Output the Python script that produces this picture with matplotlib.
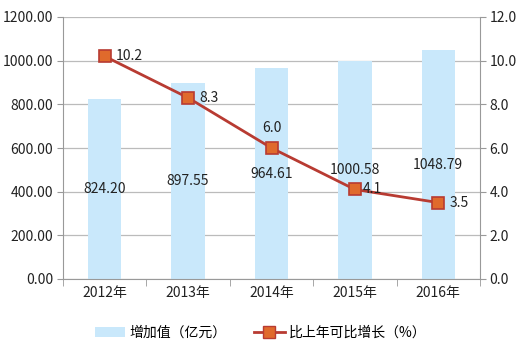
import matplotlib
matplotlib.use("Agg")
import matplotlib.pyplot as plt
import numpy as np
from matplotlib.lines import Line2D
from matplotlib.patches import Patch

plt.rcParams['font.family'] = ['Noto Sans CJK SC', 'DejaVu Sans']

years = ['2012年', '2013年', '2014年', '2015年', '2016年']
values = [824.20, 897.55, 964.61, 1000.58, 1048.79]
growth = [10.2, 8.3, 6.0, 4.1, 3.5]
left_ticks = [0, 200, 400, 600, 800, 1000, 1200]
right_ticks = [0, 2, 4, 6, 8, 10, 12]

FS = 10
fig = plt.figure(figsize=(5.21, 3.5), dpi=100)
ax = fig.add_axes([63/521, 1-279/350, (480-63)/521, (279-17)/350])
ax2 = ax.twinx()

x = np.arange(len(years))
bar_color = '#C9E8FB'
ax.bar(x, values, width=0.4, color=bar_color, zorder=2)
for xi, v in zip(x, values):
    ax.text(xi, v/2, f'{v:.2f}', ha='center', va='center', fontsize=FS, color='#222222', zorder=5)

ax.set_xlim(-0.5, len(years)-0.5)
ax.set_ylim(0, 1200)
ax.set_yticks(left_ticks)
ax.set_yticklabels([f'{t:.2f}' for t in left_ticks])
ax.set_xticks(x)
ax.set_xticklabels(years)
ax.set_xticks(np.arange(-0.5, len(years), 1.0), minor=True)
ax.tick_params(axis='x', which='major', length=0, labelsize=FS, pad=5, colors='#222222')
ax.tick_params(axis='x', which='minor', length=5, color='#999999', direction='out')
ax.tick_params(axis='y', length=4, color='#999999', labelsize=FS, colors='#222222', pad=3)
ax.grid(axis='y', color='#BBBBBB', linewidth=0.9, zorder=0)
ax.set_axisbelow(True)

line_color = '#B83B32'
marker_face = '#E06A2C'
ax2.plot(x, growth, color=line_color, linewidth=2, marker='s', markersize=8,
         markerfacecolor=marker_face, markeredgecolor=line_color, markeredgewidth=1.2, zorder=4)
offsets = [(8, 0, 'left', 'center'), (8, 0, 'left', 'center'), (0, 9, 'center', 'bottom'),
           (6, 0, 'left', 'center'), (8, 0, 'left', 'center')]
for xi, g, (dx, dy, ha, va) in zip(x, growth, offsets):
    ax2.annotate(f'{g:.1f}', (xi, g), xytext=(dx, dy), textcoords='offset points',
                 ha=ha, va=va, fontsize=FS, color='#222222', zorder=6)
ax2.set_ylim(0, 12)
ax2.set_yticks(right_ticks)
ax2.set_yticklabels([f'{t:.1f}' for t in right_ticks])
ax2.tick_params(axis='y', length=4, color='#999999', labelsize=FS, colors='#222222', pad=3)

for a in (ax, ax2):
    a.spines['top'].set_visible(False)
    for s in ('left', 'right', 'bottom'):
        a.spines[s].set_color('#999999')
ax.spines['right'].set_visible(False)
ax2.spines['left'].set_visible(False)
ax2.spines['bottom'].set_visible(False)

handles = [Patch(facecolor=bar_color, edgecolor='none'),
           Line2D([0], [0], color=line_color, linewidth=2, marker='s', markersize=8,
                  markerfacecolor=marker_face, markeredgecolor=line_color)]
fig.legend(handles, ['增加值（亿元）', '比上年可比增长（%）'], loc='center',
           bbox_to_anchor=(0.5, 1-333/350), ncol=2, frameon=False, fontsize=FS,
           columnspacing=2.0, handlelength=2.2, handletextpad=0.3)

fig.savefig('out.png', dpi=100)
